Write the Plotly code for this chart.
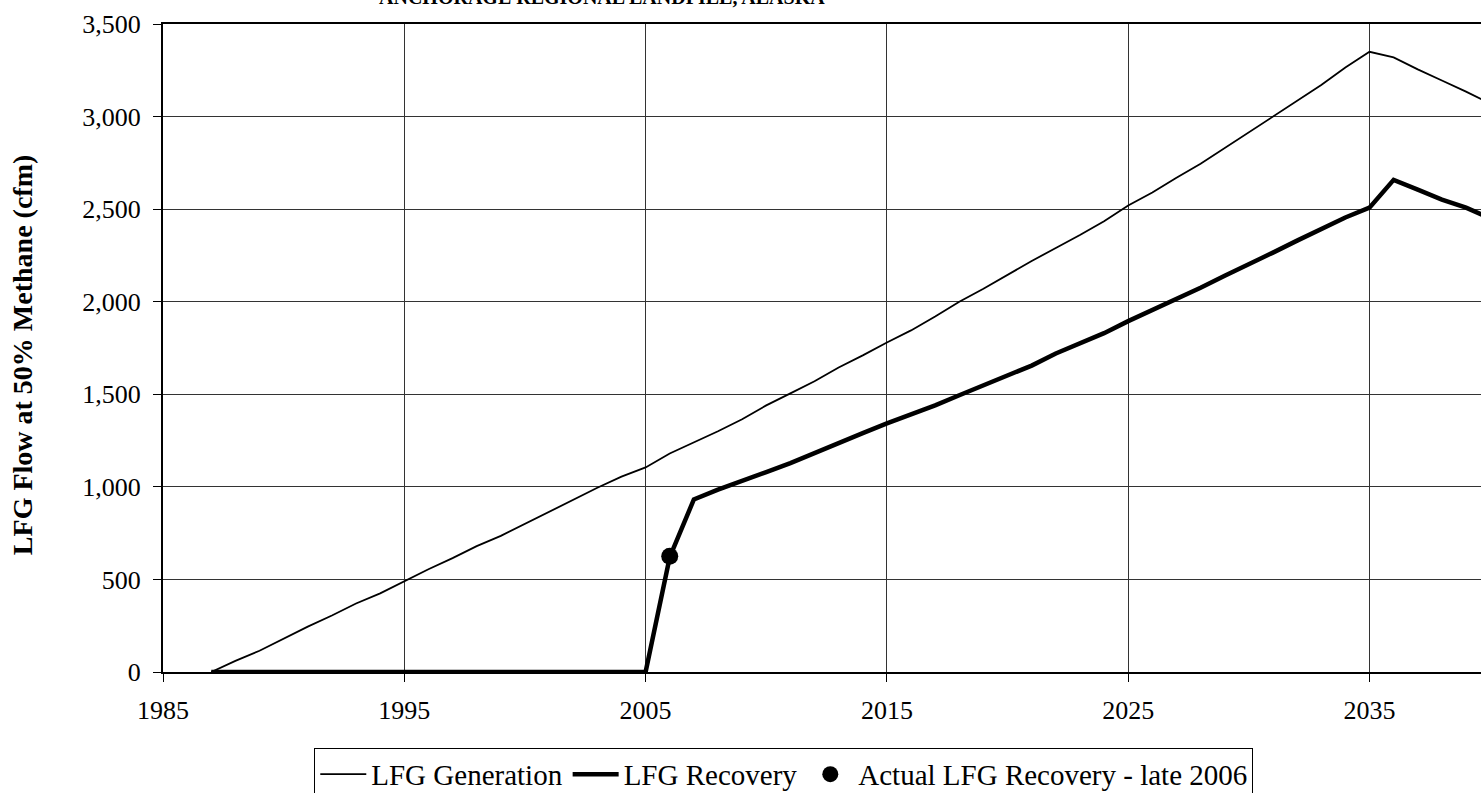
import plotly.graph_objects as go

years = list(range(1987, 2041))
generation = [0, 60, 115, 180, 245, 305, 370, 425, 490, 555,
              615, 680, 735, 800, 865, 930, 995, 1055, 1105, 1180,
              1240, 1300, 1365, 1440, 1505, 1570, 1645, 1710, 1780, 1845,
              1920, 2000, 2070, 2145, 2220, 2290, 2360, 2435, 2520, 2590,
              2670, 2745, 2830, 2915, 3000, 3085, 3170, 3265, 3350, 3320,
              3255, 3195, 3135, 3070]
recovery = [0] * 19 + [620, 932, 985, 1035, 1080, 1128, 1180, 1235, 1290, 1343,
                       1390, 1440, 1495, 1548, 1600, 1655, 1720, 1775, 1830, 1895,
                       1955, 2010, 2075, 2140, 2200, 2265, 2330, 2395, 2455, 2508,
                       2658, 2605, 2552, 2508, 2450]
actual_year = [2006]
actual_value = [625]

x_ticks = [1985, 1995, 2005, 2015, 2025, 2035]
y_ticks = [0, 500, 1000, 1500, 2000, 2500, 3000, 3500]

FONT = "Liberation Serif, Times New Roman, serif"

fig = go.Figure()
fig.add_trace(go.Scatter(x=years, y=generation, mode="lines", name="LFG Generation",
                         line=dict(color="black", width=1.8)))
fig.add_trace(go.Scatter(x=years, y=recovery, mode="lines", name="LFG Recovery",
                         line=dict(color="black", width=4.5)))
fig.add_trace(go.Scatter(x=actual_year, y=actual_value, mode="markers",
                         name="Actual LFG Recovery - late 2006",
                         marker=dict(color="black", size=17)))

fig.update_layout(
    width=1481, height=793,
    margin=dict(l=163, r=0, t=24, b=121, autoexpand=False),
    paper_bgcolor="white", plot_bgcolor="white",
    font=dict(family=FONT, size=26, color="black"),
    showlegend=True,
    legend=dict(orientation="h", x=0.471, xanchor="center", y=-0.117, yanchor="top",
                bordercolor="black", borderwidth=1, bgcolor="white",
                font=dict(family=FONT, size=29, color="black"),
                itemwidth=46, tracegroupgap=0),
    annotations=[
        dict(text="<b>ANCHORAGE REGIONAL LANDFILL, ALASKA</b>",
             xref="paper", yref="paper", x=0.333, y=1.042,
             xanchor="center", yanchor="middle", showarrow=False,
             font=dict(family=FONT, size=20, color="black")),
        dict(text="<b>LFG Flow at 50% Methane (cfm)</b>",
             xref="paper", yref="paper", x=(22 - 163) / 1318, y=0.489,
             xanchor="center", yanchor="middle", textangle=-90, showarrow=False,
             font=dict(family=FONT, size=28, color="black")),
    ],
)
fig.update_xaxes(range=[1985, 1985 + 1318 / 24.13], tickvals=x_ticks,
                 ticktext=[str(v) for v in x_ticks], automargin=False,
                 showgrid=True, gridcolor="#333333", gridwidth=1,
                 showline=True, linecolor="black", linewidth=2, mirror=True,
                 ticks="outside", ticklen=8, tickcolor="black", zeroline=False,
                 ticklabelstandoff=6,
                 tickfont=dict(family=FONT, size=26, color="black"))
fig.update_yaxes(range=[0, 3500], tickvals=y_ticks,
                 ticktext=[f"{v:,}" for v in y_ticks], automargin=False,
                 showgrid=True, gridcolor="#333333", gridwidth=1,
                 showline=True, linecolor="black", linewidth=2,
                 ticks="outside", ticklen=8, tickcolor="black", zeroline=False,
                 ticklabelstandoff=7,
                 tickfont=dict(family=FONT, size=26, color="black"))

fig.write_html("out.html", config={"displayModeBar": False},
               post_script="document.body.style.margin='0';")
